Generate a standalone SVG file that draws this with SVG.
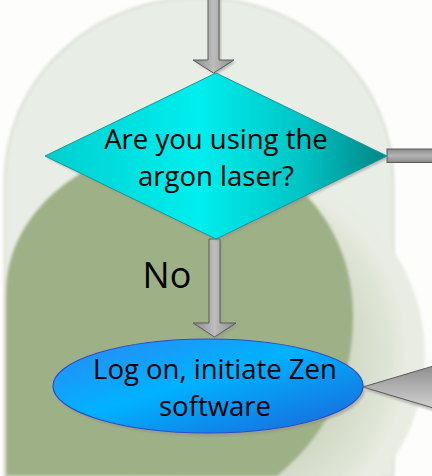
<svg xmlns="http://www.w3.org/2000/svg" width="432" height="476" viewBox="0 0 432 476">
  <defs>
    <linearGradient id="gDiamond" x1="0" y1="0" x2="1" y2="0">
      <stop offset="0" stop-color="#00cfcf"/>
      <stop offset="0.45" stop-color="#00eeee"/>
      <stop offset="0.75" stop-color="#00c4c4"/>
      <stop offset="1" stop-color="#008585"/>
    </linearGradient>
    <linearGradient id="gEllipse" x1="0" y1="0" x2="1" y2="1">
      <stop offset="0" stop-color="#2f86f2"/>
      <stop offset="0.45" stop-color="#00b2ff"/>
      <stop offset="1" stop-color="#1c62d8"/>
    </linearGradient>
    <linearGradient id="gShaftV" x1="0" y1="0" x2="1" y2="0">
      <stop offset="0" stop-color="#8a8a8a"/>
      <stop offset="0.5" stop-color="#bdbdbd"/>
      <stop offset="1" stop-color="#8a8a8a"/>
    </linearGradient>
    <linearGradient id="gShaftH" x1="0" y1="0" x2="0" y2="1">
      <stop offset="0" stop-color="#8a8a8a"/>
      <stop offset="0.5" stop-color="#b5b5b5"/>
      <stop offset="1" stop-color="#8a8a8a"/>
    </linearGradient>
    <linearGradient id="gHeadL" x1="0" y1="0" x2="0" y2="1">
      <stop offset="0" stop-color="#8c8c8c"/>
      <stop offset="1" stop-color="#d4d4d4"/>
    </linearGradient>
    <radialGradient id="gRing" cx="0.45" cy="0.5" r="0.5">
      <stop offset="0.6" stop-color="#cdd6c0"/>
      <stop offset="0.9" stop-color="#dfe5d6"/>
      <stop offset="1" stop-color="#e8ece2"/>
    </radialGradient>
    <filter id="blur" x="-10%" y="-10%" width="120%" height="120%">
      <feGaussianBlur stdDeviation="1.2"/>
    </filter>
    <filter id="soft" x="-5%" y="-5%" width="110%" height="110%">
      <feGaussianBlur stdDeviation="1.5"/>
    </filter>
  </defs>
  <style>
    .lbl { font-family: "Open Sans", "Liberation Sans", sans-serif; fill: #000000; text-anchor: middle; }
    .arrow { stroke: #5a5a5a; stroke-width: 1; stroke-linejoin: miter; }
    .shadow { fill: #8f8f8f; opacity: 0.55; filter: url(#blur); }
  </style>

  <g id="background">
    <rect x="0" y="0" width="432" height="476" fill="#fdfdfb"/>
    <path d="M5,476 L5,180 A194,182 0 0 1 393,180 L393,476 Z" fill="#e8ede5" stroke="#dfe4da" stroke-width="3" filter="url(#soft)"/>
    <ellipse cx="252" cy="355" rx="173" ry="180" fill="url(#gRing)" filter="url(#soft)"/>
    <path d="M6,476 L6,293 C6,210 90,145 185,145 C282,145 353,220 353,316 C353,390 320,440 277,476 Z" fill="#9eb085" filter="url(#soft)"/>
  </g>

  <g id="connectors">
    <polygon class="shadow" points="210,-2 221,-2 221,62 236,62 215.5,75 195,62 210,62"/>
    <polygon class="arrow" fill="url(#gShaftV)" points="208,-2 219,-2 219,60 234,60 213.5,73 193,60 208,60"/>
    <polygon class="shadow" points="211,241 222,241 222,325 238,325 216.5,339 195,325 211,325"/>
    <polygon class="arrow" fill="url(#gShaftV)" points="209,239 220,239 220,323 236,323 214.5,337 193,323 209,323"/>
    <rect x="387" y="149" width="50" height="13.5" class="arrow" fill="url(#gShaftH)"/>
    <polygon class="shadow" points="365,390 440,367 440,413"/>
    <polygon class="arrow" fill="url(#gHeadL)" points="363,387 440,364 440,410"/>
    <text class="lbl" x="167" y="288" font-size="36">No</text>
  </g>

  <g id="decision">
    <polygon class="shadow" points="218,76 389,158 218,241 47,158"/>
    <polygon points="216,73 387,156 216,239 45,156" fill="url(#gDiamond)" stroke="#179797" stroke-width="1"/>
    <text class="lbl" x="216" y="149" font-size="27.5">Are you using the</text>
    <text class="lbl" x="216" y="186" font-size="27.5">argon laser?</text>
  </g>

  <g id="process">
    <ellipse class="shadow" cx="210" cy="389" rx="155" ry="47"/>
    <ellipse cx="208" cy="386" rx="155" ry="47" fill="url(#gEllipse)" stroke="#2b4fc0" stroke-width="1.2"/>
    <text class="lbl" x="215" y="379" font-size="27.5">Log on, initiate Zen</text>
    <text class="lbl" x="215" y="416" font-size="27.5">software</text>
  </g>
</svg>
